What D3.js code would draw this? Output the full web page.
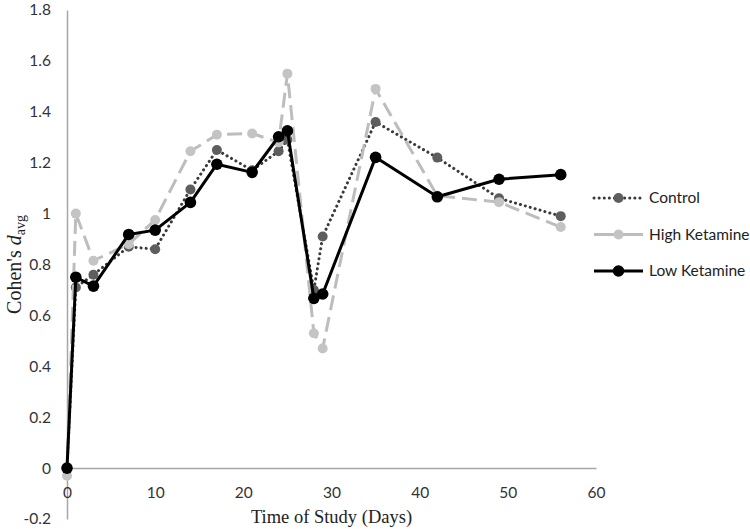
<!DOCTYPE html>
<html>
<head>
<meta charset="utf-8">
<script src="https://cdn.jsdelivr.net/npm/d3@7/dist/d3.min.js"></script>
<style>
  body { margin: 0; background: #fff; }
  svg { display: block; }
</style>
</head>
<body>
<svg id="chart" width="750" height="529"></svg>
<script>
// ---- Data ----
const days = [0, 1, 3, 7, 10, 14, 17, 21, 24, 25, 28, 29, 35, 42, 49, 56];
const seriesNames = ["Control", "High Ketamine", "Low Ketamine"];
const control = [0, 0.71, 0.76, 0.87, 0.86, 1.095, 1.25, 1.17, 1.245, 1.29, 0.70, 0.91, 1.36, 1.22, 1.06, 0.99];
const highKetamine = [-0.03, 1.0, 0.815, 0.88, 0.975, 1.245, 1.31, 1.315, 1.28, 1.55, 0.53, 0.47, 1.49, 1.07, 1.045, 0.947];
const lowKetamine = [0, 0.75, 0.715, 0.918, 0.935, 1.044, 1.194, 1.162, 1.302, 1.325, 0.667, 0.684, 1.221, 1.066, 1.135, 1.153];
const xTicks = [0, 10, 20, 30, 40, 50, 60];
const yTicks = [-0.2, 0, 0.2, 0.4, 0.6, 0.8, 1, 1.2, 1.4, 1.6, 1.8];
const yTickLabels = ["-0.2", "0", "0.2", "0.4", "0.6", "0.8", "1", "1.2", "1.4", "1.6", "1.8"];

const svg = d3.select("#chart");
const x = d3.scaleLinear().domain([0, 60]).range([67, 596]);
const y = d3.scaleLinear().domain([-0.2, 1.8]).range([519, 10]);

const axisColor = "#a6a6a6";
const tickFont = "Lato, 'Open Sans', sans-serif";

// Y axis
const yAxis = svg.append("g")
  .attr("transform", `translate(${x(0)},0)`)
  .call(d3.axisLeft(y).tickValues(yTicks).tickSize(0).tickPadding(16)
    .tickFormat((d, i) => yTickLabels[i]));
yAxis.select(".domain").attr("stroke", axisColor).attr("stroke-width", 1.5);
yAxis.selectAll("text").attr("font-family", tickFont).attr("font-size", 15.5).attr("fill", "#333");

// X axis (at y = 0)
const xAxis = svg.append("g")
  .attr("transform", `translate(0,${y(0)})`)
  .call(d3.axisBottom(x).tickValues(xTicks).tickSize(0).tickPadding(19));
xAxis.select(".domain").attr("stroke", axisColor).attr("stroke-width", 1.5);
xAxis.selectAll("text").attr("font-family", tickFont).attr("font-size", 15.5).attr("fill", "#333");

// Axis titles
svg.append("text")
  .attr("x", (x(0) + x(60)) / 2)
  .attr("y", 523)
  .attr("text-anchor", "middle")
  .attr("font-family", "'Liberation Serif', 'Times New Roman', serif")
  .attr("font-size", 18.5)
  .attr("fill", "#222")
  .text("Time of Study (Days)");

const yt = svg.append("text")
  .attr("transform", `translate(21,${(y(-0.2) + y(1.8)) / 2}) rotate(-90)`)
  .attr("text-anchor", "middle")
  .attr("font-family", "'Liberation Serif', 'Times New Roman', serif")
  .attr("font-size", 20)
  .attr("fill", "#222");
yt.append("tspan").text("Cohen's ");
yt.append("tspan").attr("font-style", "italic").text("d");
yt.append("tspan").attr("font-size", 14).attr("dy", 4).text("avg");

// Series
const styles = {
  "Control": { line: "#3a3a3a", marker: "#5e5e5e", width: 3, dash: "0.1,5", cap: "round", r: 5 },
  "High Ketamine": { line: "#bdbdbd", marker: "#c4c4c4", width: 3, dash: "15,7", cap: "butt", r: 5 },
  "Low Ketamine": { line: "#000000", marker: "#000000", width: 3, dash: null, cap: "butt", r: 5.8 }
};
const seriesData = [control, highKetamine, lowKetamine];

const line = d3.line().x(d => x(d.day)).y(d => y(d.v));

seriesNames.forEach((name, si) => {
  const st = styles[name];
  const pts = days.map((dd, i) => ({ day: dd, v: seriesData[si][i] }));
  const g = svg.append("g");
  g.append("path")
    .datum(pts)
    .attr("d", line)
    .attr("fill", "none")
    .attr("stroke", st.line)
    .attr("stroke-width", st.width)
    .attr("stroke-dasharray", st.dash)
    .attr("stroke-linecap", st.cap)
    .attr("stroke-linejoin", "round");
  g.selectAll("circle")
    .data(pts)
    .join("circle")
    .attr("cx", d => x(d.day))
    .attr("cy", d => y(d.v))
    .attr("r", st.r)
    .attr("fill", st.marker);
});

// Legend
const legend = svg.append("g");
seriesNames.forEach((name, i) => {
  const st = styles[name];
  const ly = 198 + i * 36.5;
  legend.append("line")
    .attr("x1", 594).attr("x2", 643)
    .attr("y1", ly).attr("y2", ly)
    .attr("stroke", st.line)
    .attr("stroke-width", st.width)
    .attr("stroke-dasharray", name === "High Ketamine" ? null : st.dash)
    .attr("stroke-linecap", st.cap);
  legend.append("circle")
    .attr("cx", 618.5).attr("cy", ly).attr("r", st.r)
    .attr("fill", st.marker);
  legend.append("text")
    .attr("x", 649).attr("y", ly)
    .attr("dy", "0.35em")
    .attr("font-family", tickFont)
    .attr("font-size", 15.5)
    .attr("fill", "#222")
    .text(name);
});
</script>
</body>
</html>
